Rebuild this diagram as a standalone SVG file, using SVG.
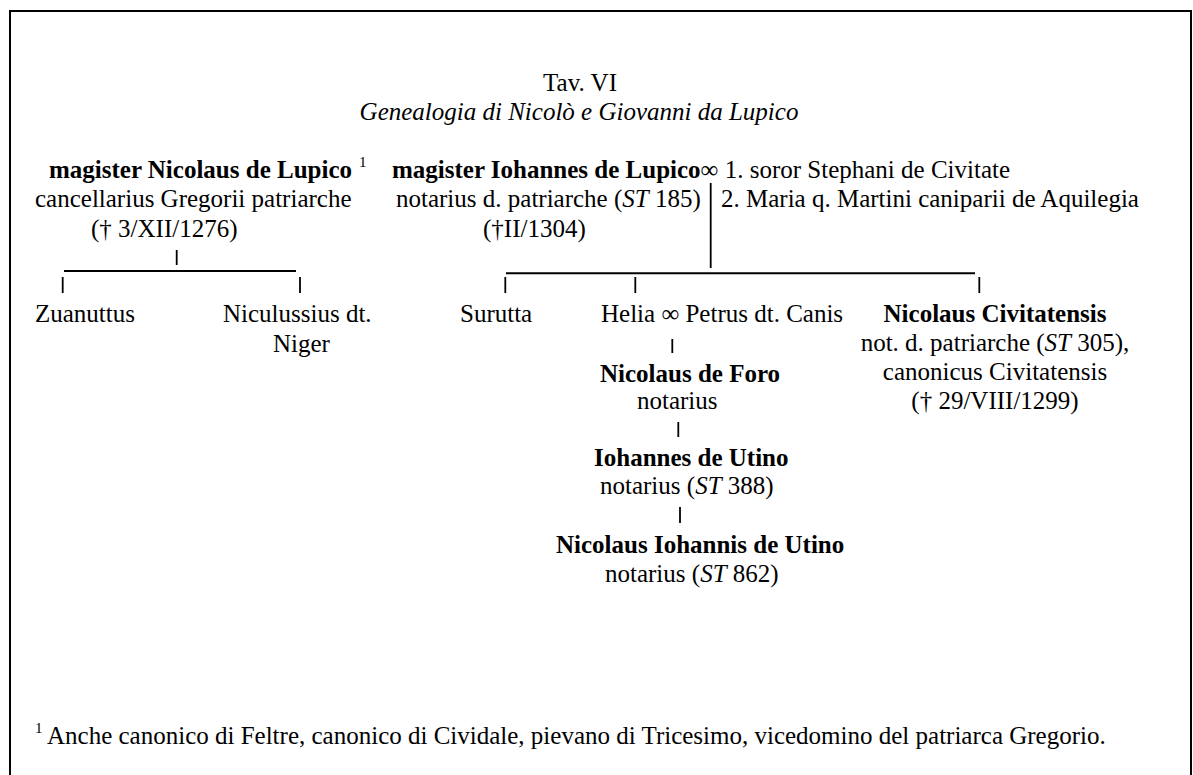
<svg xmlns="http://www.w3.org/2000/svg" width="1193" height="775" viewBox="0 0 1193 775">
<style>
text{font-family:"Liberation Serif","Times New Roman",serif;font-size:25px;fill:#000}
.b{font-weight:bold}
.i{font-style:italic}
.sup{font-size:15px}
.mid{text-anchor:middle}
.ln{stroke:#000;stroke-width:1.8;fill:none}
.hl{stroke:#000;stroke-width:2;fill:none}
</style>
<rect x="10" y="11" width="1181" height="800" fill="#fff" stroke="#000" stroke-width="2"/>
<g id="title">
<text x="580" y="91" class="mid">Tav. VI</text>
<text x="579" y="120" class="mid i">Genealogia di Nicolò e Giovanni da Lupico</text>
</g>
<g id="nicolaus-lupico">
<text x="49" y="178" class="b">magister Nicolaus de Lupico</text>
<text x="359" y="167" class="sup">1</text>
<text x="35" y="207">cancellarius Gregorii patriarche</text>
<text x="91" y="237">(† 3/XII/1276)</text>
</g>
<g id="iohannes-lupico">
<text x="392" y="178"><tspan class="b">magister Iohannes de Lupico</tspan>∞ 1. soror Stephani de Civitate</text>
<text x="396" y="207">notarius d. patriarche (<tspan class="i">ST</tspan> 185)</text>
<text x="721" y="207">2. Maria q. Martini caniparii de Aquilegia</text>
<text x="483" y="237">(†II/1304)</text>
</g>
<g id="zuanuttus"><text x="35" y="322">Zuanuttus</text></g>
<g id="niculussius">
<text x="223" y="322">Niculussius dt.</text>
<text x="273" y="352">Niger</text>
</g>
<g id="surutta"><text x="460" y="322">Surutta</text></g>
<g id="helia"><text x="601" y="322">Helia ∞ Petrus dt. Canis</text></g>
<g id="nicolaus-civitatensis">
<text x="995" y="322" class="b mid">Nicolaus Civitatensis</text>
<text x="995" y="351" class="mid">not. d. patriarche (<tspan class="i">ST</tspan> 305),</text>
<text x="995" y="380" class="mid">canonicus Civitatensis</text>
<text x="995" y="409" class="mid">(† 29/VIII/1299)</text>
</g>
<g id="nicolaus-foro">
<text x="600" y="382" class="b">Nicolaus de Foro</text>
<text x="637" y="409">notarius</text>
</g>
<g id="iohannes-utino">
<text x="594" y="466" class="b">Iohannes de Utino</text>
<text x="600" y="494">notarius (<tspan class="i">ST</tspan> 388)</text>
</g>
<g id="nicolaus-iohannis">
<text x="556" y="553" class="b">Nicolaus Iohannis de Utino</text>
<text x="605" y="582">notarius (<tspan class="i">ST</tspan> 862)</text>
</g>
<g id="footnote">
<text x="35" y="733" class="sup">1</text>
<text x="47" y="744">Anche canonico di Feltre, canonico di Cividale, pievano di Tricesimo, vicedomino del patriarca Gregorio.</text>
</g>
<g id="connectors">
<line class="ln" x1="176.7" y1="250" x2="176.7" y2="265"/>
<line class="hl" x1="64" y1="271" x2="296" y2="271"/>
<line class="ln" x1="62.7" y1="277" x2="62.7" y2="293"/>
<line class="ln" x1="300" y1="277" x2="300" y2="293"/>
<line class="ln" x1="710.7" y1="183" x2="710.7" y2="268"/>
<line class="hl" x1="506" y1="273.3" x2="975" y2="273.3"/>
<line class="ln" x1="505.3" y1="277" x2="505.3" y2="293"/>
<line class="ln" x1="635.3" y1="277" x2="635.3" y2="293"/>
<line class="ln" x1="979.3" y1="277" x2="979.3" y2="293"/>
<line class="ln" x1="672.3" y1="339" x2="672.3" y2="353"/>
<line class="ln" x1="678.3" y1="422" x2="678.3" y2="437"/>
<line class="ln" x1="680" y1="507" x2="680" y2="523"/>
</g>
</svg>
